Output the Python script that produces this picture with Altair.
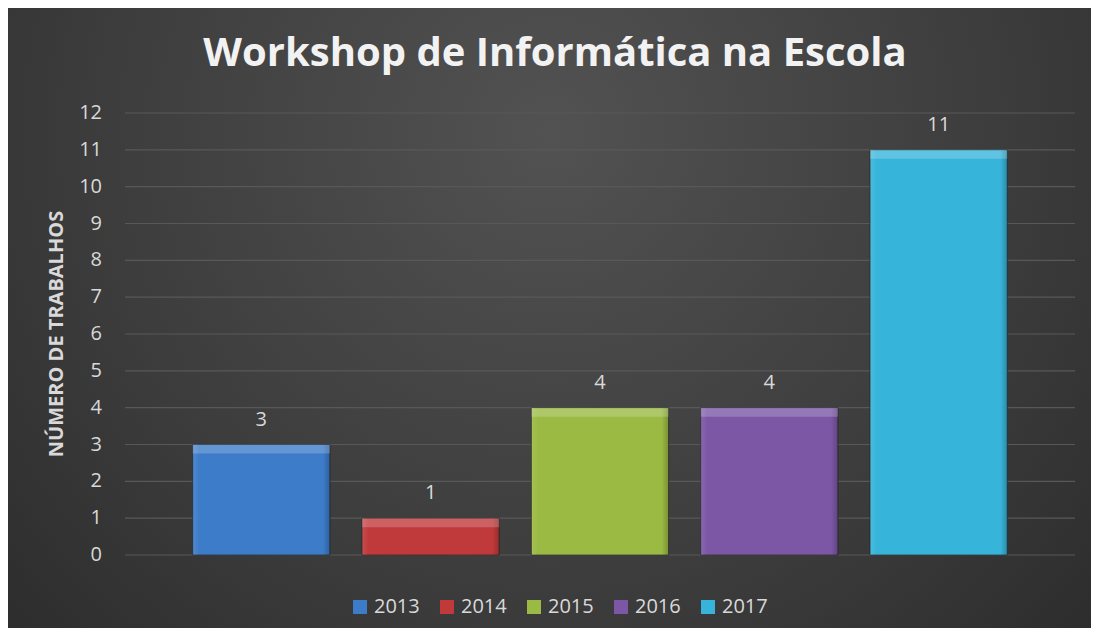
import altair as alt
import pandas as pd

years = ["2013", "2014", "2015", "2016", "2017"]
counts = [3, 1, 4, 4, 11]
colors = ["#3d7cc9", "#c0393b", "#9aba43", "#7b57a6", "#37b4da"]
y_ticks = list(range(0, 13))
chart_title = "Workshop de Informática na Escola"
y_title = "NÚMERO DE TRABALHOS"

df = pd.DataFrame({"year": years, "count": counts})
grid_df = pd.DataFrame({"tick": y_ticks})
bg_df = pd.DataFrame({"k": [0]})
ytitle_df = pd.DataFrame({"t": [y_title]})

W, H = 950, 442
PAD = {"left": 117, "top": 105, "right": 16, "bottom": 73}
FONT = "Open Sans"
LABEL = "#d9d9d9"

y_scale = alt.Scale(domain=[0, 12], nice=False, zero=True)
x_enc = alt.X("year:N", sort=years, axis=None,
              scale=alt.Scale(paddingInner=0.19, paddingOuter=0.4))

bg = alt.Chart(bg_df).mark_rect(
    fill=alt.Gradient(
        gradient="radial",
        stops=[alt.GradientStop(color="#525252", offset=0),
               alt.GradientStop(color="#3c3c3c", offset=0.5),
               alt.GradientStop(color="#232323", offset=1)],
        x1=0.5, y1=0.33, x2=0.5, y2=0.33, r1=0, r2=0.85),
).encode(
    x=alt.value(-PAD["left"]), x2=alt.value(W + PAD["right"]),
    y=alt.value(-PAD["top"]), y2=alt.value(H + PAD["bottom"]),
)

grid = alt.Chart(grid_df).mark_rule(color="#585858", strokeWidth=1.2).encode(
    y=alt.Y("tick:Q", scale=y_scale, axis=None),
)

tick_labels = alt.Chart(grid_df).mark_text(
    align="right", baseline="middle", fontSize=20, color=LABEL, font=FONT
).encode(
    y=alt.Y("tick:Q", scale=y_scale, axis=None),
    x=alt.value(-23),
    text="tick:Q",
)

ytitle = alt.Chart(ytitle_df).mark_text(
    angle=270, align="center", baseline="middle", fontSize=20,
    fontWeight="bold", color=LABEL, font=FONT
).encode(x=alt.value(-68), y=alt.value(H / 2), text="t:N")

bars = alt.Chart(df).mark_bar(stroke="#1a1a1a", strokeOpacity=0.6, strokeWidth=1).encode(
    x=x_enc,
    y=alt.Y("count:Q", scale=y_scale, axis=None),
    color=alt.Color("year:N", scale=alt.Scale(domain=years, range=colors),
                    legend=alt.Legend(orient="none", legendX=225, legendY=484,
                                      direction="horizontal", title=None,
                                      labelFontSize=20, labelColor=LABEL,
                                      labelFont=FONT, symbolType="square",
                                      symbolSize=196, symbolStrokeWidth=0,
                                      columnPadding=17, labelOffset=4,
                                      symbolOpacity=1, zindex=2)),
)

shade = alt.Chart(df).mark_bar(
    fill=alt.Gradient(
        gradient="linear", x1=0, x2=1, y1=0, y2=0,
        stops=[alt.GradientStop(color="rgba(255,255,255,0.10)", offset=0),
               alt.GradientStop(color="rgba(255,255,255,0)", offset=0.05),
               alt.GradientStop(color="rgba(0,0,0,0)", offset=0.95),
               alt.GradientStop(color="rgba(0,0,0,0.22)", offset=1)]),
).encode(x=x_enc, y=alt.Y("count:Q", scale=y_scale, axis=None))

top = alt.Chart(df).mark_bar(color="white", opacity=0.2, y2Offset=9).encode(
    x=x_enc,
    y=alt.Y("count:Q", scale=y_scale, axis=None),
    y2="count:Q",
)

labels = alt.Chart(df).mark_text(dy=-25, fontSize=20, color=LABEL, font=FONT).encode(
    x=x_enc,
    y=alt.Y("count:Q", scale=y_scale, axis=None),
    text="count:Q",
)

chart = alt.layer(bg, grid, tick_labels, ytitle, bars, shade, top, labels).properties(
    width=W, height=H,
    padding=PAD,
    autosize=alt.AutoSizeParams(type="none"),
    title=alt.TitleParams(chart_title, fontSize=40, font=FONT, fontWeight="bold",
                          color="#f2f2f2", anchor="middle", dx=-45,
                          baseline="alphabetic", offset=-98, zindex=2),
).configure_view(stroke=None).configure(background="#2e2e2e")

chart.save("out.html", embed_options={"renderer": "svg", "actions": False})
